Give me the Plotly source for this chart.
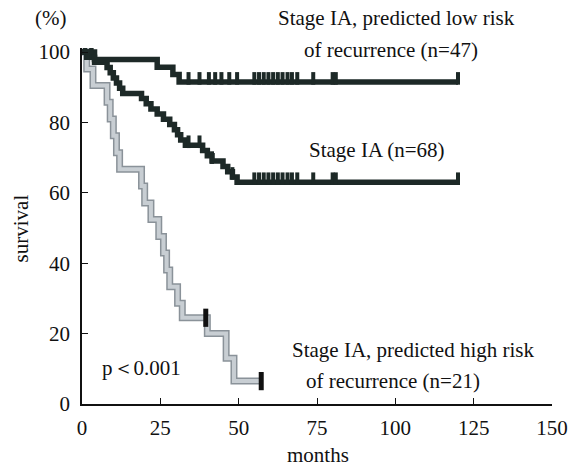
import numpy as np
import plotly.graph_objects as go

# ---- data ----
t_low = [0, 4, 24, 29, 31, 120]
s_low = [100, 97.9, 95.7, 93.6, 91.5, 91.5]
c_low = [1, 3, 34, 37.5, 40.5, 42.5, 44.5, 47, 49.5, 55, 56.5, 58, 59.5, 61, 62.5, 64,
         65.6, 67, 68.7, 73.8, 80, 81, 120]

t_all = [0, 1.5, 4, 8, 9, 10, 11, 12, 13, 19, 20.5, 22, 24, 26, 28, 29.5, 30.5, 31.5, 33,
         38.5, 40, 41.5, 45, 46.5, 48, 49.5, 120]
s_all = [100, 98.5, 97.1, 95.6, 94.1, 92.6, 91.2, 89.7, 88.2, 86.8, 85.3, 83.8, 82.4, 80.9,
         79.4, 77.9, 76.5, 75.0, 73.5, 72.0, 70.5, 69.0, 67.5, 66.0, 64.5, 63.0, 63.0]
c_all = [1, 3, 34, 37.5, 41.5, 48, 55, 56.5, 58, 59.5, 61, 62.5, 64,
         65.6, 67, 68.7, 73.8, 80, 81, 120]

t_high = [0, 1.5, 3.5, 8, 9, 10, 11, 12, 19, 20, 22, 24.5, 26, 27, 28, 30.5, 32, 40, 46, 48.5, 57.2]
s_high = [100, 95.2, 90.5, 85.7, 81.0, 76.2, 71.4, 66.7, 61.9, 57.1, 52.4, 47.6, 42.9, 38.1,
          33.3, 28.6, 24.5, 20.0, 13.0, 6.5, 6.5]
c_high = [39.5, 57.2]

x_ticks = [0, 25, 50, 75, 100, 125, 150]
y_ticks = [0, 20, 40, 60, 80, 100]

DARK = "#1d2927"
FONT = "Liberation Serif"


def surv_at(times, surv, cens):
    times = np.asarray(times)
    surv = np.asarray(surv)
    idx = np.searchsorted(times, np.asarray(cens), side="right") - 1
    return surv[idx]


fig = go.Figure()

# high-risk (grey, outlined look)
fig.add_trace(go.Scatter(x=t_high, y=s_high, mode="lines", line=dict(shape="hv", color="#8a9299", width=7),
                         hoverinfo="skip", showlegend=False))
fig.add_trace(go.Scatter(x=t_high, y=s_high, mode="lines", line=dict(shape="hv", color="#c8ced3", width=4),
                         hoverinfo="skip", showlegend=False))
fig.add_trace(go.Scatter(x=c_high, y=surv_at(t_high, s_high, c_high), mode="markers",
                         marker=dict(symbol="line-ns-open", size=13, color="#111",
                                     line=dict(color="#111", width=5)),
                         hoverinfo="skip", showlegend=False))

# stage IA all and low risk (dark)
for t, s, c in [(t_all, s_all, c_all), (t_low, s_low, c_low)]:
    fig.add_trace(go.Scatter(x=t, y=s, mode="lines", line=dict(shape="hv", color=DARK, width=5.5),
                             hoverinfo="skip", showlegend=False))
    fig.add_trace(go.Scatter(x=c, y=surv_at(t, s, c) + 1.0, mode="markers",
                             marker=dict(symbol="line-ns-open", size=9, color=DARK,
                                         line=dict(color=DARK, width=4)),
                             hoverinfo="skip", showlegend=False))

L, R, T, B = 82, 17, 48, 69
W, H = 580, 473
pw, ph = W - L - R, H - T - B


def px(xp, yp):
    return (xp - L) / pw, (H - B - yp) / ph


def ann(text, xp, yp, size=21, angle=0):
    x, y = px(xp, yp)
    fig.add_annotation(text=text, x=x, y=y, xref="paper", yref="paper", showarrow=False,
                       textangle=angle, xanchor="center", yanchor="middle",
                       font=dict(family=FONT, size=size, color="#111"))


ann("(%)", 50, 18)
ann("Stage IA, predicted low risk", 404, 18)
ann("of recurrence (n=47)", 398, 50)
ann("Stage IA (n=68)", 384, 150)
ann("Stage IA, predicted high risk", 421, 350)
ann("of recurrence (n=21)", 400, 381)
ann("p＜0.001", 143, 368)
ann("survival", 20, 228, angle=-90)
ann("months", 324, 455)

fig.update_layout(
    width=W, height=H, margin=dict(l=L, r=R, t=T, b=B),
    paper_bgcolor="white", plot_bgcolor="white",
    font=dict(family=FONT, size=21, color="#111"),
    xaxis=dict(range=[0, 150], tickvals=x_ticks, ticktext=[str(v) for v in x_ticks],
               showgrid=False, zeroline=False, showline=True, linecolor="#111", linewidth=1.5,
               ticks="inside", ticklen=6, tickwidth=1.3, tickcolor="#111", ticklabelstandoff=4),
    yaxis=dict(range=[0, ph / 3.52], tickvals=y_ticks, ticktext=[str(v) for v in y_ticks],
               showgrid=False, zeroline=False, showline=True, linecolor="#111", linewidth=1.5,
               ticks="inside", ticklen=6, tickwidth=1.3, tickcolor="#111", ticklabelstandoff=6),
)

fig.write_html("out.html")
